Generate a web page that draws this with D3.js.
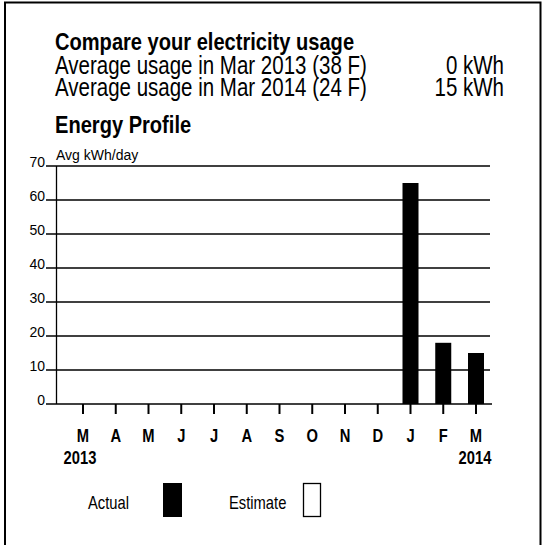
<!DOCTYPE html>
<html>
<head>
<meta charset="utf-8">
<script src="https://cdn.jsdelivr.net/npm/d3@7/dist/d3.min.js"></script>
<style>
  body { margin: 0; background: #fff; }
  svg { display: block; }
  text { font-family: "Liberation Sans", Arial, sans-serif; }
</style>
</head>
<body>
<div id="chart"></div>
<script>
// months shown on the x axis (Mar 2013 .. Mar 2014)
const monthKeys = ["2013-03","2013-04","2013-05","2013-06","2013-07","2013-08","2013-09",
                   "2013-10","2013-11","2013-12","2014-01","2014-02","2014-03"];
const monthLabels = ["M","A","M","J","J","A","S","O","N","D","J","F","M"];
const yearLabels = {"2013-03": "2013", "2014-03": "2014"};

// average kWh/day, actual readings
const actualValues = [0, 0, 0, 0, 0, 0, 0, 0, 0, 0, 65, 18, 15];

const yTicks = [0, 10, 20, 30, 40, 50, 60, 70];

const summaryRows = [
  { label: "Average usage in Mar 2013 (38 F)", value: "0 kWh" },
  { label: "Average usage in Mar 2014 (24 F)", value: "15 kWh" }
];

const width = 542, height = 545;
const NARROW = 0.82; // no Arial Narrow here, squeeze the regular face instead

const svg = d3.select("#chart").append("svg")
  .attr("width", width)
  .attr("height", height);

// condensed text helper
function narrowText(parent, x, y, str, size, bold, anchor) {
  return parent.append("text")
    .attr("transform", `translate(${x},${y}) scale(${NARROW},1)`)
    .attr("font-size", size)
    .attr("font-weight", bold ? "bold" : "normal")
    .attr("text-anchor", anchor || "start")
    .text(str);
}

// outer frame (left, top, right)
svg.append("path")
  .attr("d", "M5,545V2.5H540.5V545")
  .attr("fill", "none")
  .attr("stroke", "#000")
  .attr("stroke-width", 2);

// header texts
const header = svg.append("g");
narrowText(header, 55, 50, "Compare your electricity usage", 24.5, true);
summaryRows.forEach((r, i) => {
  narrowText(header, 55, 74 + i * 22, r.label, 25, false);
  narrowText(header, 504, 74 + i * 22, r.value, 25, false, "end");
});
narrowText(header, 55, 133, "Energy Profile", 24.5, true);

// scales
const x = d3.scalePoint().domain(monthKeys).range([83, 476]);
const y = d3.scaleLinear().domain([0, 70]).range([404, 166]);

const plot = svg.append("g");

// grid lines + y labels
plot.selectAll("line.grid")
  .data(yTicks)
  .enter().append("line")
  .attr("class", "grid")
  .attr("x1", 46).attr("x2", d => d === 0 ? 492 : 490)
  .attr("y1", d => y(d)).attr("y2", d => y(d))
  .attr("stroke", "#000")
  .attr("stroke-width", 1.3);

plot.selectAll("text.ylab")
  .data(yTicks)
  .enter().append("text")
  .attr("class", "ylab")
  .attr("x", 45)
  .attr("y", d => y(d) + 1)
  .attr("text-anchor", "end")
  .attr("font-size", 14)
  .text(d => d);

// y axis line
plot.append("line")
  .attr("x1", 56.5).attr("x2", 56.5)
  .attr("y1", y(70)).attr("y2", y(0))
  .attr("stroke", "#000").attr("stroke-width", 1.3);

plot.append("text")
  .attr("x", 56).attr("y", 160)
  .attr("font-size", 14)
  .text("Avg kWh/day");

// x ticks
plot.selectAll("line.xtick")
  .data(monthKeys)
  .enter().append("line")
  .attr("class", "xtick")
  .attr("x1", d => x(d)).attr("x2", d => x(d))
  .attr("y1", y(0)).attr("y2", y(0) + 10)
  .attr("stroke", "#000").attr("stroke-width", 2);

// bars
const barW = 16;
plot.selectAll("rect.bar")
  .data(monthKeys.map((k, i) => ({ key: k, value: actualValues[i] })).filter(d => d.value > 0))
  .enter().append("rect")
  .attr("class", "bar")
  .attr("x", d => x(d.key) - barW / 2)
  .attr("width", barW)
  .attr("y", d => y(d.value))
  .attr("height", d => y(0) - y(d.value))
  .attr("fill", "#000");

// month labels
const xl = svg.append("g");
monthKeys.forEach((k, i) => {
  narrowText(xl, x(k), 442, monthLabels[i], 18, true, "middle");
});
Object.keys(yearLabels).forEach(k => {
  narrowText(xl, x(k) - (k === "2013-03" ? 3 : 1), 464, yearLabels[k], 18, true, "middle");
});

// legend
const legend = svg.append("g");
narrowText(legend, 88, 509, "Actual", 18, false);
legend.append("rect")
  .attr("x", 163).attr("y", 483).attr("width", 19).attr("height", 34)
  .attr("fill", "#000");
narrowText(legend, 229, 509, "Estimate", 18, false);
legend.append("rect")
  .attr("x", 303.5).attr("y", 483.5).attr("width", 17).attr("height", 33)
  .attr("fill", "#fff").attr("stroke", "#000").attr("stroke-width", 1.3);
</script>
</body>
</html>
